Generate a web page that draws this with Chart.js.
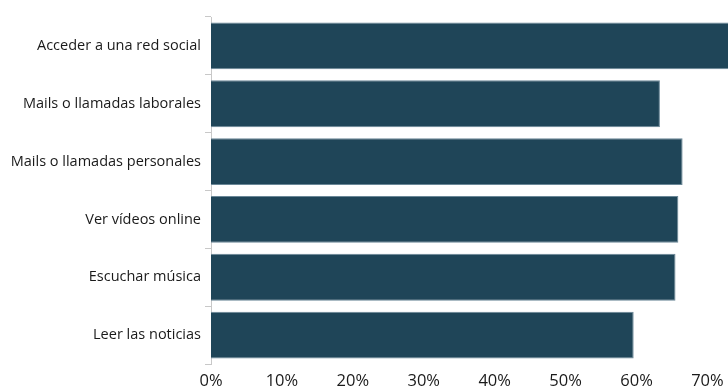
<!DOCTYPE html>
<html>
<head>
<meta charset="utf-8">
<script src="https://cdn.jsdelivr.net/npm/chart.js@4/dist/chart.umd.min.js"></script>
<style>
html,body{margin:0;padding:0;background:#fff;}
#wrap{width:728px;height:388px;}
</style>
</head>
<body>
<div id="wrap"><canvas id="c" width="728" height="388"></canvas></div>
<script>
const categories = ["Acceder a una red social","Mails o llamadas laborales","Mails o llamadas personales","Ver vídeos online","Escuchar música","Leer las noticias"];
const values = [76, 63.3, 66.5, 65.9, 65.5, 59.6];
const tickValues = [0, 10, 20, 30, 40, 50, 60, 70];

new Chart(document.getElementById('c'), {
  type: 'bar',
  data: {
    labels: categories,
    datasets: [{
      data: values,
      backgroundColor: '#1f4558',
      borderColor: '#6a8797',
      borderWidth: 1,
      borderSkipped: 'left',
      barPercentage: 1,
      categoryPercentage: 0.81
    }]
  },
  options: {
    indexAxis: 'y',
    responsive: false,
    animation: false,
    layout: { padding: { top: 17, right: 0, bottom: 0, left: 0 } },
    plugins: { legend: { display: false }, tooltip: { enabled: false } },
    scales: {
      x: {
        min: 0,
        max: 72.9,
        afterBuildTicks: (s) => { s.ticks = tickValues.map(v => ({ value: v })); },
        afterFit: (s) => { s.height = 24; s.paddingLeft = 0; s.paddingRight = 0; },
        grid: { display: false, drawTicks: false },
        border: { display: false },
        ticks: {
          padding: 9,
          color: '#1a1a1a',
          font: { family: 'Open Sans', size: 16.5, lineHeight: 1 },
          callback: (v) => v + '%'
        }
      },
      y: {
        afterFit: (s) => { s.width = 211; s.paddingTop = 0; s.paddingBottom = 0; },
        grid: { display: true, drawOnChartArea: false, tickLength: 6, color: '#c8c8c8', offset: true },
        border: { display: true, color: '#c8c8c8', width: 1 },
        ticks: {
          padding: 4,
          color: '#1a1a1a',
          font: { family: 'Open Sans', size: 14.5 }
        }
      }
    }
  }
});
</script>
</body>
</html>
